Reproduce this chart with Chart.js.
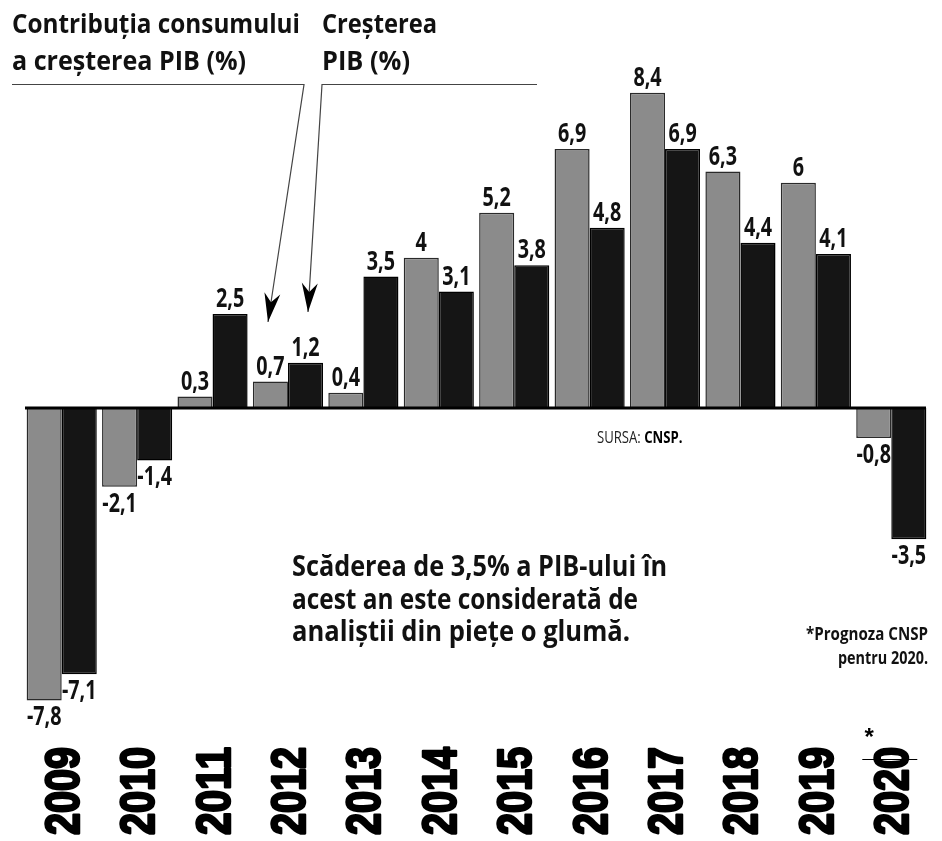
<!DOCTYPE html>
<html>
<head>
<meta charset="utf-8">
<script src="https://cdn.jsdelivr.net/npm/chart.js@4.4.0/dist/chart.umd.min.js"></script>
<style>
  html, body { margin: 0; padding: 0; background: #fff; }
  #wrap { width: 942px; height: 841px; }
</style>
</head>
<body>
<div id="wrap"><canvas id="myChart" width="942" height="841"></canvas></div>
<script>
var years = ["2009", "2010", "2011", "2012", "2013", "2014", "2015", "2016", "2017", "2018", "2019", "2020"];
var consum = [-7.8, -2.1, 0.3, 0.7, 0.4, 4, 5.2, 6.9, 8.4, 6.3, 6, -0.8];
var pib = [-7.1, -1.4, 2.5, 1.2, 3.5, 3.1, 3.8, 4.8, 6.9, 4.4, 4.1, -3.5];

var GRAY = '#8b8b8b';
var BLACK = '#151515';
var COND = 'Open Sans';

// text squeezed horizontally, to get the condensed newspaper look
function condText(ctx, text, x, y, font, sx, align, base) {
    ctx.save();
    ctx.font = font;
    ctx.textAlign = align || 'left';
    ctx.textBaseline = base || 'alphabetic';
    ctx.translate(x, y);
    ctx.scale(sx, 1);
    ctx.fillText(text, 0, 0);
    ctx.restore();
}

// text squeezed to a given width
function fitText(ctx, text, x, y, w, font, align) {
    ctx.save();
    ctx.font = font;
    var sx = w / ctx.measureText(text).width;
    ctx.restore();
    condText(ctx, text, x, y, font, sx, align);
}

function arrowHead(ctx, x0, y0, x1, y1) {
    var a = Math.atan2(y1 - y0, x1 - x0);
    ctx.save();
    ctx.translate(x1, y1);
    ctx.rotate(a);
    ctx.beginPath();
    ctx.moveTo(0, 0);
    ctx.lineTo(-29, -8);
    ctx.lineTo(-20, 0);
    ctx.lineTo(-29, 8);
    ctx.closePath();
    ctx.fill();
    ctx.restore();
}

var annot = {
    id: 'annot',
    afterDatasetsDraw: function (chart) {
        var ctx = chart.ctx;
        var x = chart.scales.x, y = chart.scales.y;
        var y0 = y.getPixelForValue(0);

        // zero line
        ctx.save();
        ctx.strokeStyle = '#000';
        ctx.lineWidth = 3;
        ctx.beginPath();
        ctx.moveTo(25, y0);
        ctx.lineTo(926, y0);
        ctx.stroke();
        ctx.restore();

        ctx.fillStyle = '#111';

        // values on bars
        chart.data.datasets.forEach(function (ds, di) {
            var meta = chart.getDatasetMeta(di);
            meta.data.forEach(function (bar, i) {
                var v = ds.data[i];
                var txt = String(v).replace('.', ',');
                if (v >= 0) {
                    condText(ctx, txt, bar.x, bar.y - 7, 'bold 26px ' + COND, 0.76, 'center', 'alphabetic');
                } else {
                    condText(ctx, txt, bar.x, bar.y + 25, 'bold 26px ' + COND, 0.76, 'center', 'alphabetic');
                }
            });
        });

        // years, rotated
        years.forEach(function (yr, i) {
            var cx = x.getPixelForValue(i);
            ctx.save();
            ctx.translate(cx + 17, 835);
            ctx.rotate(-Math.PI / 2);
            ctx.font = 'bold 48px "Liberation Sans"';
            var sx = 88 / ctx.measureText(yr).width;
            ctx.scale(sx, 1);
            ctx.textAlign = 'left';
            ctx.textBaseline = 'alphabetic';
            ctx.fillStyle = '#000';
            ctx.strokeStyle = '#000';
            ctx.lineWidth = 2.5;
            ctx.lineJoin = 'round';
            ctx.fillText(yr, 0, 0);
            ctx.strokeText(yr, 0, 0);
            ctx.restore();
        });

        // 2020 forecast mark
        var c20 = x.getPixelForValue(11);
        ctx.save();
        ctx.fillStyle = '#000';
        ctx.font = 'bold 24px "Liberation Sans"';
        ctx.textAlign = 'center';
        ctx.fillText('*', c20 - 22, 745);
        ctx.strokeStyle = '#000';
        ctx.lineWidth = 1;
        ctx.beginPath();
        ctx.moveTo(c20 - 29, 759.5);
        ctx.lineTo(c20 + 26, 759.5);
        ctx.stroke();
        ctx.restore();

        // legend titles
        var tf = 'bold 27px ' + COND;
        fitText(ctx, 'Contribuția consumului', 12, 33, 288, tf, 'left');
        fitText(ctx, 'a creșterea PIB (%)', 12, 70, 234, tf, 'left');
        fitText(ctx, 'Creșterea', 322, 33, 115, tf, 'left');
        fitText(ctx, 'PIB (%)', 322, 70, 88, tf, 'left');

        // leader lines with arrows
        ctx.save();
        ctx.strokeStyle = '#444';
        ctx.fillStyle = '#000';
        ctx.lineWidth = 1.2;
        ctx.beginPath();
        ctx.moveTo(12, 84.5);
        ctx.lineTo(304, 84.5);
        ctx.lineTo(268, 322);
        ctx.stroke();
        ctx.beginPath();
        ctx.moveTo(537, 84.5);
        ctx.lineTo(322, 84.5);
        ctx.lineTo(308, 312);
        ctx.stroke();
        arrowHead(ctx, 304, 84.5, 268, 322);
        arrowHead(ctx, 322, 84.5, 308, 312);
        ctx.restore();

        // source
        ctx.save();
        ctx.fillStyle = '#222';
        condText(ctx, 'SURSA:', 597, 443, '16px ' + COND, 0.82, 'left');
        ctx.font = '16px ' + COND;
        var sw = ctx.measureText('SURSA: ').width * 0.82;
        ctx.fillStyle = '#000';
        condText(ctx, 'CNSP.', 597 + sw, 443, 'bold 16px ' + COND, 0.82, 'left');
        ctx.restore();

        // note in the middle
        var nf = 'bold 28px ' + COND;
        fitText(ctx, 'Scăderea de 3,5% a PIB-ului în', 292, 576, 375, nf, 'left');
        fitText(ctx, 'acest an este considerată de', 292, 609, 346, nf, 'left');
        fitText(ctx, 'analiștii din piețe o glumă.', 292, 641, 338, nf, 'left');

        // forecast footnote
        var ff = 'bold 18px ' + COND;
        fitText(ctx, '*Prognoza CNSP', 928, 640, 122, ff, 'right');
        fitText(ctx, 'pentru 2020.', 928, 664, 90, ff, 'right');
    }
};

var ctx = document.getElementById("myChart");

var myChart = new Chart(ctx, {
    type: 'bar',
    data: {
        labels: years,
        datasets: [{
            label: 'Contribuția consumului a creșterea PIB (%)',
            data: consum,
            backgroundColor: GRAY,
            borderColor: '#2a2a2a',
            borderWidth: 1.5,
            categoryPercentage: 0.93,
            barPercentage: 1
        }, {
            label: 'Creșterea PIB (%)',
            data: pib,
            backgroundColor: BLACK,
            borderColor: '#000',
            borderWidth: 1.5,
            categoryPercentage: 0.93,
            barPercentage: 1
        }]
    },
    options: {
        responsive: false,
        animation: false,
        layout: {
            padding: { left: 24, right: 13, top: 89, bottom: 133 }
        },
        plugins: {
            legend: { display: false },
            tooltip: { enabled: false }
        },
        scales: {
            x: { display: false },
            y: { display: false, min: -8, max: 8.5 }
        }
    },
    plugins: [annot]
});
</script>
</body>
</html>
